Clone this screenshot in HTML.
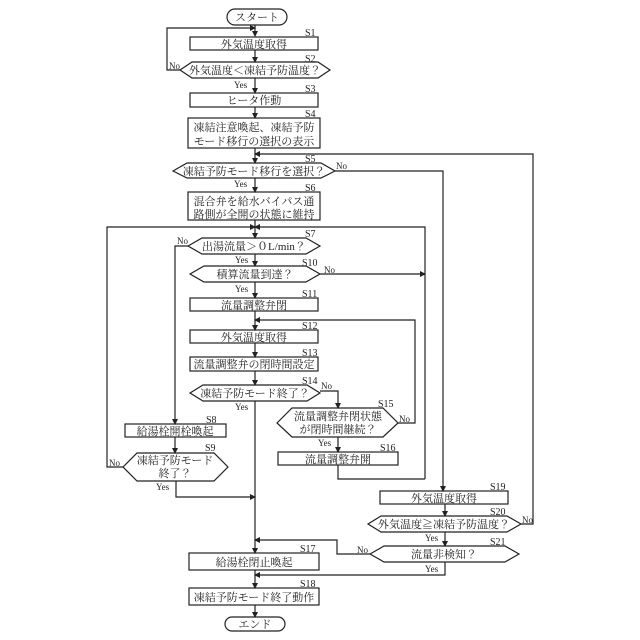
<!DOCTYPE html>
<html><head><meta charset="utf-8"><style>
html,body{margin:0;padding:0;background:#fff}
svg{display:block}
text{font-family:"Liberation Serif","Noto Serif CJK JP","Noto Serif CJK SC",serif;fill:#222}
.t{font-size:11px;text-anchor:middle}
.s{font-size:10px}
.y{font-size:9px}
</style></head><body>
<svg width="640" height="640" viewBox="0 0 640 640" xmlns="http://www.w3.org/2000/svg">
<defs><marker id="a" markerWidth="6" markerHeight="6" refX="5" refY="3" orient="auto" markerUnits="userSpaceOnUse"><path d="M0,0 L6,3 L0,6 z" fill="#222"/></marker></defs>
<g fill="none" stroke="#222" stroke-width="1.2">
<!-- start -->
<rect x="227" y="9" width="60" height="16" rx="8"/>
<line x1="255" y1="25" x2="255" y2="36" marker-end="url(#a)"/>
<rect x="190" y="37" width="128" height="13"/>
<line x1="255" y1="50" x2="255" y2="62" marker-end="url(#a)"/>
<polygon points="180,70 192,62 318,62 330,70 318,78 192,78"/>
<polyline points="180,70 167,70 167,28 255,28" marker-end="url(#a)"/>
<line x1="255" y1="78" x2="255" y2="93" marker-end="url(#a)"/>
<rect x="190" y="93" width="128" height="14"/>
<line x1="255" y1="107" x2="255" y2="118" marker-end="url(#a)"/>
<rect x="188" y="118" width="132" height="30"/>
<line x1="255" y1="148" x2="255" y2="163" marker-end="url(#a)"/>
<polyline points="521,524 533,524 533,154 255,154" marker-end="url(#a)"/>
<polygon points="173,171 187,163 321,163 335,171 321,178 187,178"/>
<polyline points="335,171 443,171 443,491" marker-end="url(#a)"/>
<line x1="255" y1="178" x2="255" y2="192" marker-end="url(#a)"/>
<rect x="188" y="192" width="132" height="28"/>
<line x1="255" y1="220" x2="255" y2="238" marker-end="url(#a)"/>
<polyline points="425,479 425,227 255,227" marker-end="url(#a)"/>
<polyline points="123,467 107,467 107,227 255,227" marker-end="url(#a)"/>
<!-- S7 -->
<polygon points="188,246 202,238 306,238 320,246 306,254 202,254"/>
<polyline points="188,246 175,246 175,424" marker-end="url(#a)"/>
<line x1="255" y1="254" x2="255" y2="266" marker-end="url(#a)"/>
<polygon points="190,274 204,266 306,266 320,274 306,282 204,282"/>
<line x1="320" y1="274" x2="425" y2="274" marker-end="url(#a)"/>
<line x1="255" y1="282" x2="255" y2="298" marker-end="url(#a)"/>
<rect x="190" y="298" width="128" height="13"/>
<line x1="255" y1="311" x2="255" y2="330" marker-end="url(#a)"/>
<polyline points="398,423 415,423 415,320 255,320" marker-end="url(#a)"/>
<rect x="190" y="330" width="128" height="13"/>
<line x1="255" y1="343" x2="255" y2="357" marker-end="url(#a)"/>
<rect x="190" y="357" width="128" height="14"/>
<line x1="255" y1="371" x2="255" y2="385" marker-end="url(#a)"/>
<polygon points="190,393 203,385 307,385 320,393 307,401 203,401"/>
<polyline points="320,391 338,391 338,408" marker-end="url(#a)"/>
<line x1="255" y1="401" x2="255" y2="553" marker-end="url(#a)"/>
<polygon points="277,423 292,408 383,408 398,423 383,437 292,437"/>
<line x1="338" y1="437" x2="338" y2="452" marker-end="url(#a)"/>
<rect x="278" y="452" width="120" height="13"/>
<polyline points="338,465 338,479 425,479"/>
<!-- S8/S9 -->
<rect x="125" y="424" width="101" height="13"/>
<line x1="175" y1="437" x2="175" y2="453" marker-end="url(#a)"/>
<polygon points="123,467 137,453 214,453 228,467 214,481 137,481"/>
<polyline points="176,481 176,497 255,497" marker-end="url(#a)"/>
<!-- S19-21 -->
<rect x="380" y="491" width="128" height="13"/>
<line x1="445" y1="504" x2="445" y2="516" marker-end="url(#a)"/>
<polygon points="368,524 381,516 507,516 521,524 507,532 381,532"/>
<line x1="445" y1="532" x2="445" y2="546" marker-end="url(#a)"/>
<polygon points="370,554 384,546 505,546 519,554 505,562 384,562"/>
<polyline points="370,554 337,554 337,540 255,540" marker-end="url(#a)"/>
<polyline points="445,562 445,575 255,575" marker-end="url(#a)"/>
<rect x="189" y="553" width="130" height="17"/>
<line x1="255" y1="570" x2="255" y2="588" marker-end="url(#a)"/>
<rect x="189" y="588" width="130" height="17"/>
<line x1="255" y1="605" x2="255" y2="617" marker-end="url(#a)"/>
<rect x="225" y="617" width="60" height="14" rx="7"/>
</g>
<g>
<text class="t" x="257" y="21">スタート</text>
<text class="t" x="254" y="48">外気温度取得</text>
<text class="t" x="255" y="74">外気温度＜凍結予防温度？</text>
<text class="t" x="254" y="104">ヒータ作動</text>
<text class="t" x="254" y="131">凍結注意喚起、凍結予防</text>
<text class="t" x="254" y="145">モード移行の選択の表示</text>
<text class="t" x="254" y="175">凍結予防モード移行を選択？</text>
<text class="t" x="254" y="205">混合弁を給水バイパス通</text>
<text class="t" x="254" y="218">路側が全開の状態に維持</text>
<text class="t" x="254" y="250">出湯流量＞０L/min？</text>
<text class="t" x="255" y="278">積算流量到達？</text>
<text class="t" x="254" y="309">流量調整弁閉</text>
<text class="t" x="254" y="341">外気温度取得</text>
<text class="t" x="254" y="368">流量調整弁の閉時間設定</text>
<text class="t" x="255" y="397">凍結予防モード終了？</text>
<text class="t" x="338" y="420">流量調整弁閉状態</text>
<text class="t" x="338" y="433">が閉時間継続？</text>
<text class="t" x="338" y="463">流量調整弁開</text>
<text class="t" x="175" y="435">給湯栓開栓喚起</text>
<text class="t" x="175" y="464">凍結予防モード</text>
<text class="t" x="175" y="477">終了？</text>
<text class="t" x="444" y="502">外気温度取得</text>
<text class="t" x="444" y="528">外気温度≧凍結予防温度？</text>
<text class="t" x="444" y="558">流量非検知？</text>
<text class="t" x="254" y="566">給湯栓閉止喚起</text>
<text class="t" x="254" y="601">凍結予防モード終了動作</text>
<text class="t" x="255" y="628">エンド</text>
</g>
<g class="s">
<text class="s" x="305" y="36">S1</text>
<text class="s" x="305" y="62">S2</text>
<text class="s" x="305" y="92">S3</text>
<text class="s" x="305" y="117">S4</text>
<text class="s" x="305" y="162">S5</text>
<text class="s" x="305" y="191">S6</text>
<text class="s" x="305" y="237">S7</text>
<text class="s" x="302" y="266">S10</text>
<text class="s" x="302" y="297">S11</text>
<text class="s" x="302" y="329">S12</text>
<text class="s" x="302" y="356">S13</text>
<text class="s" x="302" y="384">S14</text>
<text class="s" x="378" y="407">S15</text>
<text class="s" x="380" y="451">S16</text>
<text class="s" x="206" y="423">S8</text>
<text class="s" x="205" y="451">S9</text>
<text class="s" x="490" y="490">S19</text>
<text class="s" x="490" y="515">S20</text>
<text class="s" x="490" y="545">S21</text>
<text class="s" x="300" y="552">S17</text>
<text class="s" x="300" y="587">S18</text>
</g>
<g class="y">
<text class="y" x="169" y="69">No</text>
<text class="y" x="234" y="88">Yes</text>
<text class="y" x="336" y="169">No</text>
<text class="y" x="234" y="187">Yes</text>
<text class="y" x="177" y="244">No</text>
<text class="y" x="235" y="263">Yes</text>
<text class="y" x="324" y="273">No</text>
<text class="y" x="235" y="292">Yes</text>
<text class="y" x="321" y="389">No</text>
<text class="y" x="235" y="410">Yes</text>
<text class="y" x="399" y="422">No</text>
<text class="y" x="318" y="446">Yes</text>
<text class="y" x="109" y="466">No</text>
<text class="y" x="156" y="490">Yes</text>
<text class="y" x="522" y="523">No</text>
<text class="y" x="425" y="541">Yes</text>
<text class="y" x="357" y="553">No</text>
<text class="y" x="425" y="572">Yes</text>
</g>
</svg>
</body></html>
